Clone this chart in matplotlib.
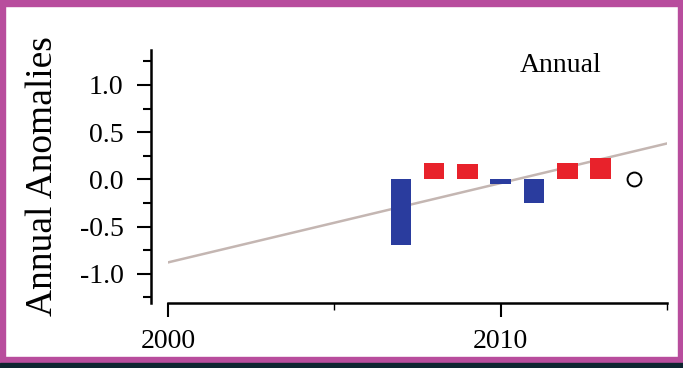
import matplotlib
matplotlib.use("Agg")
import matplotlib.pyplot as plt
from matplotlib.patches import Rectangle
from matplotlib.ticker import FixedLocator

years = [2007, 2008, 2009, 2010, 2011, 2012, 2013]
anomalies = [-0.70, 0.17, 0.16, -0.05, -0.25, 0.17, 0.23]
open_year = [2014]
open_value = [0.0]
trend_years = [2000, 2015]
trend_values = [-0.88, 0.38]
yticks = [-1.0, -0.5, 0.0, 0.5, 1.0]
ytick_labels = ["-1.0", "-0.5", "0.0", "0.5", "1.0"]
xticks = [2000, 2010]
xtick_labels = ["2000", "2010"]

BLUE = "#2a3c9e"
RED = "#e8222b"
MAGENTA = "#b84d9d"
DARK = "#0e2530"
SERIF = ["Liberation Serif", "DejaVu Serif"]

fig = plt.figure(figsize=(6.83, 3.68), dpi=100)
fig.patch.set_facecolor("white")

ax = fig.add_axes([168/683, 1-303/368, (667-168)/683, (303-50)/368])
colors = [RED if v > 0 else BLUE for v in anomalies]
ax.bar(years, anomalies, width=0.62, color=colors, zorder=3)
ax.plot(trend_years, trend_values, color="#c4b6b2", lw=1.8, zorder=2)
ax.plot(open_year, open_value, "o", mfc="white", mec="black", mew=1.4, ms=10, zorder=4)

ax.set_xlim(2000, 2015)
ax.set_ylim(-1.31, 1.37)
for s in ["top", "right"]:
    ax.spines[s].set_visible(False)
ax.spines["left"].set_position(("outward", 12))
ax.spines["left"].set_linewidth(1.8)
ax.spines["bottom"].set_linewidth(1.8)
ax.spines["bottom"].set_bounds(2000, 2015)

ax.set_yticks(yticks)
ax.set_yticklabels(ytick_labels, fontfamily=SERIF, fontsize=20)
ax.yaxis.set_minor_locator(FixedLocator([-1.25, -0.75, -0.25, 0.25, 0.75, 1.25]))
ax.set_xticks(xticks)
ax.set_xticklabels(xtick_labels, fontfamily=SERIF, fontsize=20)
ax.xaxis.set_minor_locator(FixedLocator([2005, 2015]))
ax.tick_params(axis="y", which="major", length=10, width=1.5, pad=10, colors="black")
ax.tick_params(axis="y", which="minor", length=6, width=1.5)
ax.tick_params(axis="x", which="major", length=10, width=1.5, pad=9)
ax.tick_params(axis="x", which="minor", length=5, width=1.0)

ax.set_ylabel("Annual Anomalies", fontfamily=SERIF, fontsize=27, labelpad=14)
ax.text(2010.58, 1.21, "Annual", fontfamily=SERIF, fontsize=20, ha="left", va="center")

# border
fig.patches.append(Rectangle((0, 0), 5/683, 1, transform=fig.transFigure, color=MAGENTA, zorder=10))
fig.patches.append(Rectangle((1-5/683, 0), 5/683, 1, transform=fig.transFigure, color=MAGENTA, zorder=10))
fig.patches.append(Rectangle((0, 1-6/368), 1, 6/368, transform=fig.transFigure, color=MAGENTA, zorder=10))
fig.patches.append(Rectangle((0, 5/368), 1, 6/368, transform=fig.transFigure, color=MAGENTA, zorder=10))
fig.patches.append(Rectangle((0, 0), 1, 5/368, transform=fig.transFigure, color=DARK, zorder=11))

fig.savefig("out.png", dpi=100)
